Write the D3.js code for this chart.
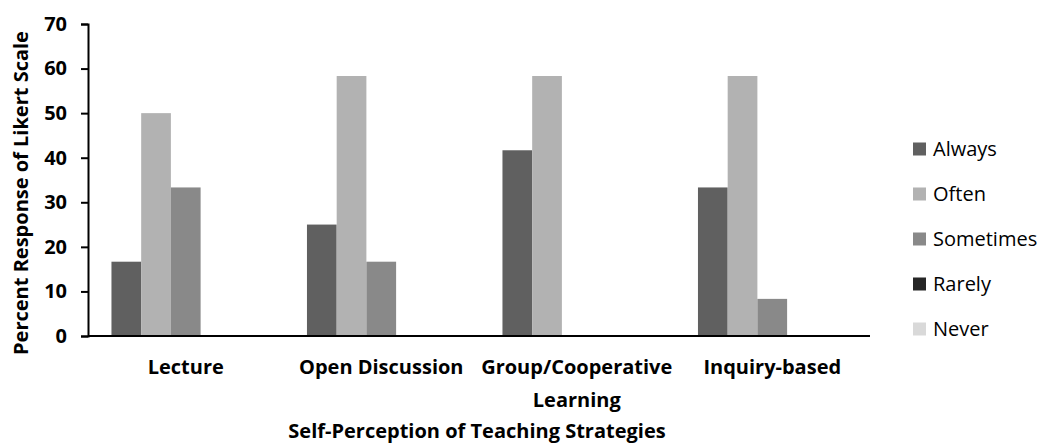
<!DOCTYPE html>
<html>
<head>
<meta charset="utf-8">
<script src="https://cdn.jsdelivr.net/npm/d3@7"></script>
<style>
  body { margin: 0; background: #fff; }
  text { font-family: "Open Sans", sans-serif; fill: #000; }
</style>
</head>
<body>
<div id="chart"></div>
<script>
// data
var categories = ["Lecture", "Open Discussion", "Group/Cooperative Learning", "Inquiry-based"];
var seriesNames = ["Always", "Often", "Sometimes", "Rarely", "Never"];
var always    = [16.67, 25, 41.67, 33.33];
var often     = [50, 58.33, 58.33, 58.33];
var sometimes = [33.33, 16.67, 0, 8.33];
var rarely    = [0, 0, 0, 0];
var never     = [0, 0, 0, 0];
var yTicks = [0, 10, 20, 30, 40, 50, 60, 70];

var colors = ["#606060", "#b2b2b2", "#898989", "#262626", "#d9d9d9"];
var seriesValues = [always, often, sometimes, rarely, never];

var width = 1041, height = 444;
var plot = { left: 88, right: 870, top: 24, bottom: 336 };

var svg = d3.select("#chart").append("svg")
    .attr("width", width)
    .attr("height", height);

var x0 = d3.scaleBand()
    .domain(categories)
    .range([plot.left, plot.right])
    .paddingInner(0.24)
    .paddingOuter(0.12);
var x1 = d3.scaleBand()
    .domain(seriesNames)
    .range([0, x0.bandwidth()]);
var y = d3.scaleLinear()
    .domain([0, 70])
    .range([plot.bottom, plot.top]);

// bars
var rows = categories.map(function (c, i) {
    return { cat: c, vals: seriesNames.map(function (s, j) { return { s: s, v: seriesValues[j][i], j: j }; }) };
});
svg.selectAll(".grp")
    .data(rows)
    .enter().append("g")
    .attr("transform", function (d) { return "translate(" + x0(d.cat) + ",0)"; })
    .selectAll("rect")
    .data(function (d) { return d.vals; })
    .enter().append("rect")
    .attr("x", function (d) { return x1(d.s); })
    .attr("width", x1.bandwidth())
    .attr("y", function (d) { return y(d.v); })
    .attr("height", function (d) { return plot.bottom - y(d.v); })
    .attr("fill", function (d) { return colors[d.j]; });

// y axis
var yAxis = svg.append("g")
    .attr("transform", "translate(" + plot.left + ",0)")
    .call(d3.axisLeft(y).tickValues(yTicks).tickSize(7).tickPadding(14).tickFormat(d3.format("d")));
yAxis.selectAll("line, path").attr("stroke", "#000").attr("stroke-width", 2);
yAxis.selectAll("text").style("font-size", "20px").style("font-weight", "bold")
    .style("font-family", "'Open Sans', sans-serif");

// x axis
var xAxis = svg.append("g")
    .attr("transform", "translate(0," + plot.bottom + ")")
    .call(d3.axisBottom(x0).tickSize(0).tickFormat(""));
xAxis.select("path").attr("stroke", "#000").attr("stroke-width", 2)
    .attr("d", "M" + plot.left + ",0H" + plot.right);

// category labels (wrap long one)
var catLabels = {
    "Group/Cooperative Learning": ["Group/Cooperative", "Learning"]
};
categories.forEach(function (c) {
    var lines = catLabels[c] || [c];
    var t = svg.append("text")
        .attr("x", x0(c) + x0.bandwidth() / 2)
        .attr("y", 374)
        .attr("text-anchor", "middle")
        .style("font-size", "20px")
        .style("font-weight", "bold");
    lines.forEach(function (l, k) {
        t.append("tspan")
            .attr("x", x0(c) + x0.bandwidth() / 2)
            .attr("dy", k === 0 ? 0 : 33)
            .text(l);
    });
});

// axis titles
svg.append("text")
    .attr("x", 477)
    .attr("y", 438)
    .attr("text-anchor", "middle")
    .style("font-size", "20px")
    .style("font-weight", "bold")
    .text("Self-Perception of Teaching Strategies");

svg.append("text")
    .attr("transform", "translate(28,193) rotate(-90)")
    .attr("text-anchor", "middle")
    .style("font-size", "20px")
    .style("font-weight", "bold")
    .text("Percent Response of Likert Scale");

// legend
var legend = svg.selectAll(".legend")
    .data(seriesNames)
    .enter().append("g")
    .attr("transform", function (d, i) { return "translate(913," + (149 + i * 45) + ")"; });
legend.append("rect")
    .attr("x", 0)
    .attr("y", -6.5)
    .attr("width", 13)
    .attr("height", 13)
    .attr("fill", function (d, i) { return colors[i]; });
legend.append("text")
    .attr("x", 20)
    .attr("y", 6.5)
    .style("font-size", "20px")
    .text(function (d) { return d; });
</script>
</body>
</html>
